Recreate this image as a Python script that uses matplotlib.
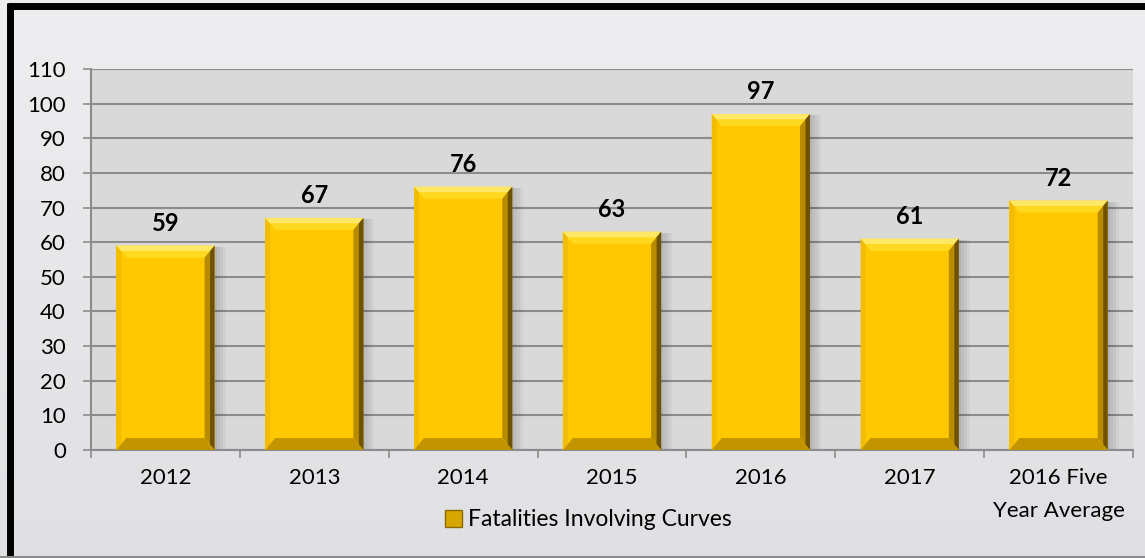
import numpy as np
import matplotlib.pyplot as plt
from matplotlib.patches import Polygon, Rectangle
from matplotlib.lines import Line2D

# data
categories = ["2012", "2013", "2014", "2015", "2016", "2017", "2016 Five\nYear Average"]
fatalities = [59, 67, 76, 63, 97, 61, 72]
series_name = "Fatalities Involving Curves"
y_ticks = list(range(0, 111, 10))

FACE = "#FFC800"
TOP = "#FFD91F"
TOP_EDGE = "#FFE866"
LEFT = "#F2BC00"
RIGHT_OUT = "#6E5200"
RIGHT_IN = "#B88C00"
BOTTOM = "#C29400"
GRID = "#8C8C8C"

plt.rcParams["font.family"] = ["Lato", "DejaVu Sans"]

W, H, DPI = 1145, 558, 100
fig = plt.figure(figsize=(W / DPI, H / DPI), dpi=DPI)

# figure background, light grey vertical gradient
bg = fig.add_axes([0, 0, 1, 1], zorder=-10)
grad = np.linspace(0, 1, 256).reshape(-1, 1)
bg.imshow(grad, aspect="auto", cmap=plt.matplotlib.colors.LinearSegmentedColormap.from_list(
    "bg", ["#EEEEF0", "#E0E0E4"]), extent=[0, 1, 0, 1], origin="upper")
bg.set_axis_off()

# frame: thick black on left and top, thin grey at bottom
fig.add_artist(Line2D([10.5 / W, 10.5 / W], [0, 1 - 3 / H], transform=fig.transFigure,
                      color="black", lw=5, solid_capstyle="butt"))
fig.add_artist(Line2D([8 / W, 1], [1 - 5.5 / H, 1 - 5.5 / H], transform=fig.transFigure,
                      color="black", lw=5, solid_capstyle="butt"))
fig.add_artist(Line2D([0, 1], [1.5 / H, 1.5 / H], transform=fig.transFigure,
                      color="#8a8a8a", lw=1.5))

left, right, top, bottom = 91, 1133, 69, 450
ax = fig.add_axes([left / W, 1 - bottom / H, (right - left) / W, (bottom - top) / H])
ax.set_facecolor("#D9D9D9")
n = len(categories)
x = np.arange(n)
ax.set_xlim(-0.5, n - 0.5)
ax.set_ylim(0, 110)

ax.set_yticks(y_ticks)
ax.yaxis.grid(True, color=GRID, lw=1.5)
ax.set_axisbelow(True)
for s in ["top", "right"]:
    ax.spines[s].set_visible(False)
for s in ["left", "bottom"]:
    ax.spines[s].set_color(GRID)
    ax.spines[s].set_linewidth(1.5)
ax.tick_params(axis="y", length=6, width=1.2, color=GRID, labelsize=16, pad=12, labelcolor="black")

ax.set_xticks(np.arange(n + 1) - 0.5)
ax.set_xticklabels([])
ax.set_xticks(x, minor=True)
ax.set_xticklabels(categories, minor=True, fontsize=16, linespacing=1.8)
ax.tick_params(axis="x", which="major", length=6, width=1.2, color=GRID)
ax.tick_params(axis="x", which="minor", length=0, pad=13)

bar_w = 0.66
# pixel scale to data scale for the bevel
px_x = (right - left) / n
px_y = (bottom - top) / 110
bx = 10 / px_x
by = 12 / px_y

# soft shadow to the right
for k, a in enumerate([0.045, 0.045, 0.045, 0.04]):
    off = (2 + 3 * k) / px_x
    ax.bar(x + off, np.array(fatalities) - 0.3, width=bar_w, color="black", alpha=a, lw=0, zorder=2)

bars = ax.bar(x, fatalities, width=bar_w, color=FACE, lw=0, zorder=3)
for b, v in zip(bars, fatalities):
    x0, x1 = b.get_x(), b.get_x() + b.get_width()
    y0, y1 = 0, v
    ax.add_patch(Polygon([(x0, y1), (x1, y1), (x1 - bx, y1 - by), (x0 + bx, y1 - by)],
                         closed=True, color=TOP, lw=0, zorder=4))
    ax.add_patch(Polygon([(x0, y1), (x1, y1), (x1 - bx * 0.45, y1 - by * 0.45),
                          (x0 + bx * 0.45, y1 - by * 0.45)],
                         closed=True, color=TOP_EDGE, lw=0, zorder=4))
    ax.add_patch(Polygon([(x0, y0), (x0, y1), (x0 + bx * 0.5, y1 - by * 0.5),
                          (x0 + bx * 0.5, y0 + by * 0.5)],
                         closed=True, color=LEFT, lw=0, zorder=4))
    ax.add_patch(Polygon([(x1, y0), (x1, y1), (x1 - bx, y1 - by), (x1 - bx, y0 + by)],
                         closed=True, color=RIGHT_IN, lw=0, zorder=4))
    ax.add_patch(Polygon([(x1, y0), (x1, y1), (x1 - bx * 0.45, y1 - by * 0.45),
                          (x1 - bx * 0.45, y0 + by * 0.45)],
                         closed=True, color=RIGHT_OUT, lw=0, zorder=4))
    ax.add_patch(Polygon([(x0, y0), (x1, y0), (x1 - bx, y0 + by), (x0 + bx, y0 + by)],
                         closed=True, color=BOTTOM, lw=0, zorder=4))
    ax.annotate(str(v), (b.get_x() + b.get_width() / 2, v), xytext=(0, 8),
                textcoords="offset points", ha="center", va="bottom",
                fontsize=17, fontweight="bold", zorder=5)

handle = Rectangle((0, 0), 1, 1, facecolor="#D8A600", edgecolor="#8A6A00", lw=1)
fig.legend([handle], [series_name], loc="center", bbox_to_anchor=(588 / W, 1 - 520 / H),
           frameon=False, fontsize=16.5, handlelength=0.75, handleheight=0.75, handletextpad=0.25)

fig.savefig("out.png", dpi=DPI)
